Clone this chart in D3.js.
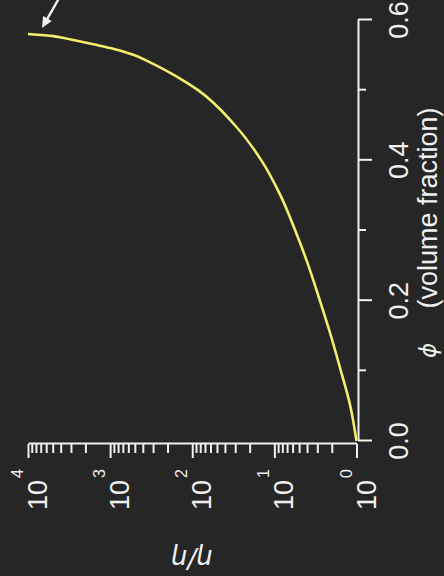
<!DOCTYPE html>
<html>
<head>
<meta charset="utf-8">
<script src="https://cdn.jsdelivr.net/npm/d3@7"></script>
<style>
  html, body { margin: 0; padding: 0; background: #262626; }
  svg { display: block; }
</style>
</head>
<body>
<script>
// Relative viscosity of a suspension against particle volume fraction
const phi      = [0, 0.05, 0.10, 0.15, 0.20, 0.25, 0.30, 0.35, 0.40, 0.45, 0.50, 0.52, 0.54, 0.55, 0.56, 0.565, 0.57, 0.575, 0.577, 0.58];
const relVisc  = [1, 1.19, 1.55, 2.05, 2.79, 3.85, 5.57, 8.43, 14.4, 30.2, 85, 158, 331, 513, 993, 1549, 2455, 3981, 4898, 10000];

// Axis ticks
const phiMajor      = [0, 0.2, 0.4, 0.6];
const phiMinor      = [0.1, 0.3, 0.5];
const phiTickLabels = ["0.0", "0.2", "0.4", "0.6"];
const viscMajor     = [1, 10, 100, 1000, 10000];
const viscExponents = ["0", "1", "2", "3", "4"];
const viscMinor     = [];
for (let d = 0; d < 4; d++) for (let m = 2; m <= 9; m++) viscMinor.push(m * Math.pow(10, d));

const W = 444, H = 576;
const ink = "#f0f0f0";
const lineColor = "#f3ef6b";
const sans = "'Liberation Sans', Arial, Helvetica, sans-serif";

const svg = d3.select("body").append("svg")
  .attr("width", W).attr("height", H);

svg.append("rect").attr("width", W).attr("height", H).attr("fill", "#262626");

// The plot is laid out in an upright frame and turned a quarter turn counter-clockwise
const plot = svg.append("g").attr("transform", `translate(0,${H}) rotate(-90)`);

const x = d3.scaleLinear().domain([0, 0.6]).range([135, 556]);
const y = d3.scaleLog().domain([1, 10000]).range([356.5, 28]);

const xAxisY = 358;
const yAxisX = 132;

// phi axis
const gx = plot.append("g").attr("transform", `translate(0,${xAxisY})`).attr("color", ink);
gx.call(d3.axisBottom(x).tickValues(phiMajor).tickSize(14).tickSizeOuter(0).tickFormat(""));
gx.append("g").call(d3.axisBottom(x).tickValues(phiMinor).tickSize(8).tickFormat(""))
  .select(".domain").remove();
gx.selectAll("path, line").attr("stroke-width", 2);

plot.append("g").selectAll("text")
  .data(phiMajor)
  .join("text")
  .attr("x", d => x(d))
  .attr("y", 408)
  .attr("text-anchor", "middle")
  .attr("font-family", sans)
  .attr("font-size", 27)
  .attr("fill", ink)
  .text((d, i) => phiTickLabels[i]);

// viscosity axis (log)
const gy = plot.append("g").attr("transform", `translate(${yAxisX},0)`).attr("color", ink);
gy.call(d3.axisLeft(y).tickValues(viscMajor).tickSize(14).tickSizeOuter(0).tickFormat(""));
gy.append("g").call(d3.axisLeft(y).tickValues(viscMinor).tickSize(9).tickFormat(""))
  .select(".domain").remove();
gy.selectAll("path, line").attr("stroke-width", 2);

const yl = plot.append("g").selectAll("text")
  .data(viscMajor)
  .join("text")
  .attr("x", 107)
  .attr("y", d => y(d) + 19)
  .attr("text-anchor", "end")
  .attr("font-family", sans)
  .attr("font-size", 27)
  .attr("fill", ink);
yl.append("tspan").text("10");
yl.append("tspan")
  .attr("dx", 2)
  .attr("dy", -24)
  .attr("font-size", 16)
  .text((d, i) => viscExponents[i]);

// axis titles
plot.append("text")
  .attr("x", x(0.3) - 120)
  .attr("y", 436)
  .attr("text-anchor", "middle")
  .attr("font-family", "'DejaVu Sans', sans-serif")
  .attr("font-style", "italic")
  .attr("font-size", 23)
  .attr("fill", ink)
  .text("ϕ");

plot.append("text")
  .attr("x", x(0.3) - 78)
  .attr("y", 437)
  .attr("text-anchor", "start")
  .attr("font-family", sans)
  .attr("font-size", 27)
  .attr("fill", ink)
  .text("(volume fraction)");

plot.append("text")
  .attr("transform", `translate(26,${y(100)}) rotate(-90)`)
  .attr("text-anchor", "middle")
  .attr("font-family", "'DejaVu Sans', sans-serif")
  .attr("font-style", "italic")
  .attr("font-size", 26)
  .attr("fill", ink)
  .text("η/η");

// viscosity curve
const pts = phi.map((p, i) => [p, relVisc[i]]);
plot.append("path")
  .datum(pts)
  .attr("fill", "none")
  .attr("stroke", lineColor)
  .attr("stroke-width", 2.6)
  .attr("stroke-linejoin", "round")
  .attr("d", d3.line().x(d => x(d[0])).y(d => y(d[1])).curve(d3.curveMonotoneX));

// arrow pointing at the end of the curve (screen frame)
const last = pts[pts.length - 1];
const endScreen = [y(last[1]), H - x(last[0])];
const tip = [endScreen[0] + 14, endScreen[1] - 6];
const dir = [16, -28];
const len = Math.hypot(dir[0], dir[1]);
const u = [dir[0] / len, dir[1] / len];
const n = [-u[1], u[0]];
const headLen = 11, headHalf = 5;
const base = [tip[0] + u[0] * headLen, tip[1] + u[1] * headLen];
const tail = [tip[0] + u[0] * 60, tip[1] + u[1] * 60];

const arrow = svg.append("g");
arrow.append("line")
  .attr("x1", base[0] - u[0] * 1).attr("y1", base[1] - u[1] * 1)
  .attr("x2", tail[0]).attr("y2", tail[1])
  .attr("stroke", ink).attr("stroke-width", 2.4);
arrow.append("path")
  .attr("d", d3.line()([
    tip,
    [base[0] + n[0] * headHalf, base[1] + n[1] * headHalf],
    [base[0] - n[0] * headHalf, base[1] - n[1] * headHalf]
  ]) + "Z")
  .attr("fill", ink);
</script>
</body>
</html>
